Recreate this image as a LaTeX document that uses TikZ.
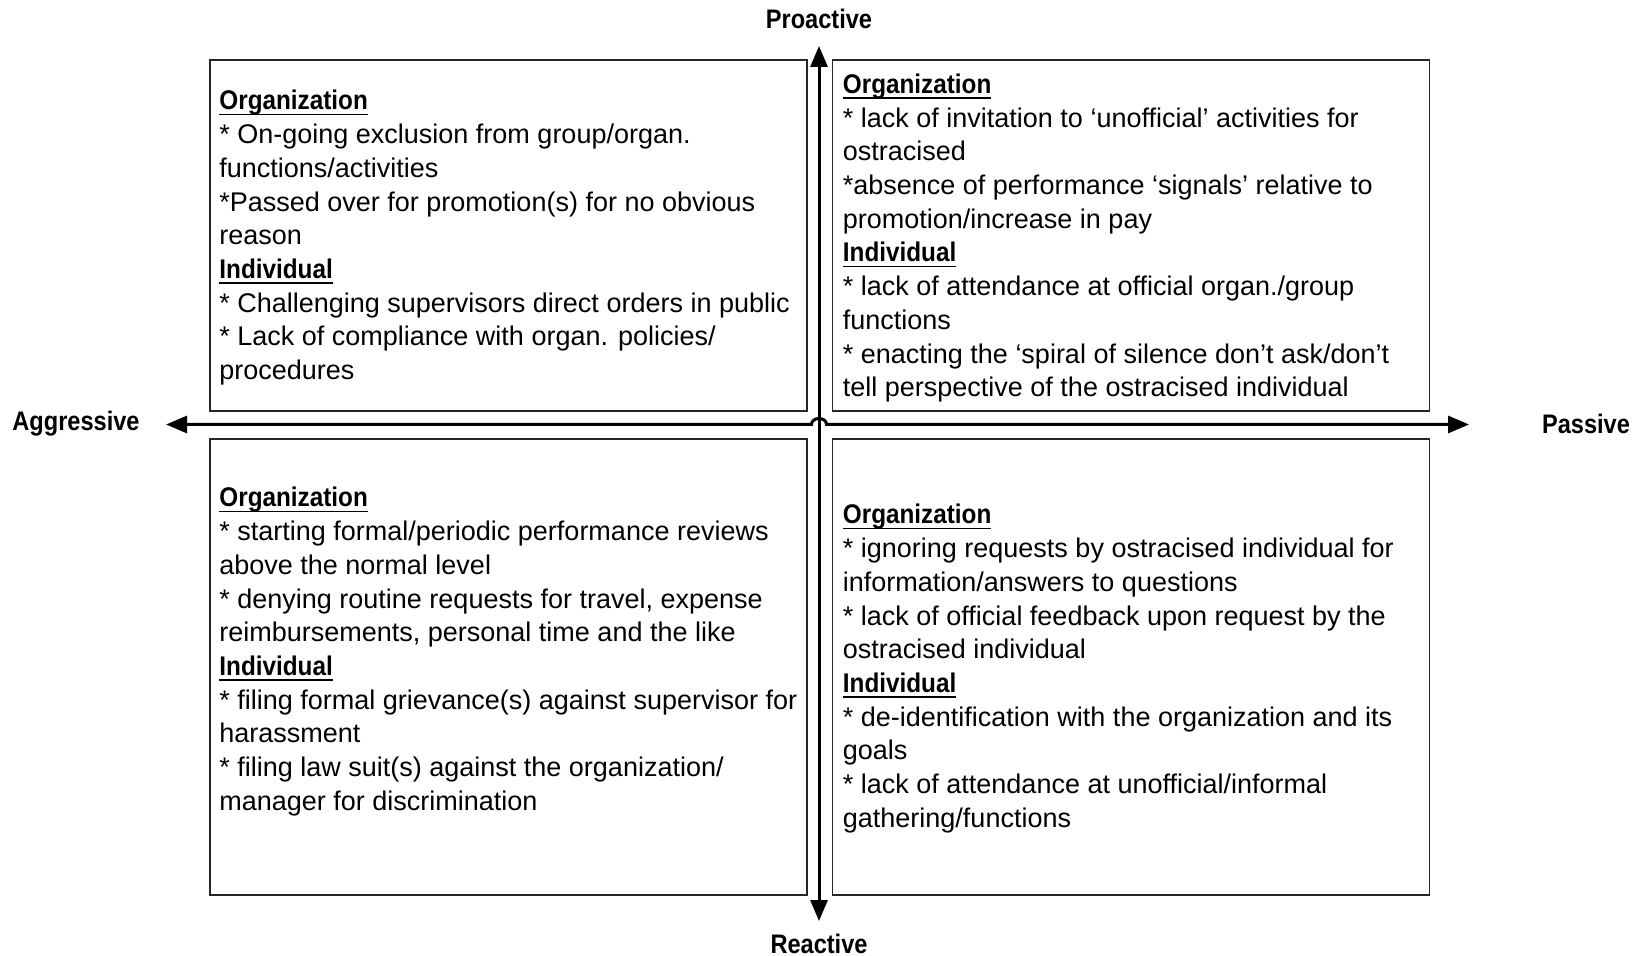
\documentclass[tikz,border=0pt]{standalone}
\usepackage{fontspec}
\setmainfont{Liberation Sans}
\usetikzlibrary{arrows.meta}
\newcommand{\hd}[1]{\scalebox{0.9}[1]{\setbox0\hbox{\bfseries #1}\rlap{\rule[-2.6pt]{\wd0}{0.75pt}}\box0}}
\newcommand{\axl}[1]{\scalebox{0.88}[1]{\bfseries #1}}
\begin{document}
\begin{tikzpicture}[x=0.5pt,y=-0.5pt,
  qbox/.style={draw=black!85, line width=0.75pt, inner sep=0, minimum width=298.5pt},
  qtext/.style={anchor=north west, inner sep=0, align=left, font=\fontsize{13.5}{16.85}\selectfont},
  axis/.style={line width=1.5pt, {Triangle[length=10.5pt,width=8.5pt]}-{Triangle[length=10.5pt,width=8.5pt]}},
  axlabel/.style={font=\fontsize{13.4}{15}\selectfont, inner sep=0}]
\useasboundingbox (0,0) rectangle (1641,956);

% quadrant boxes
\node[qbox, minimum height=175.5pt] (tlbox) at (508.25,235.5) {};
\node[qbox, minimum height=175.5pt] (trbox) at (1131,235.5) {};
\node[qbox, minimum height=228pt] (blbox) at (508.25,667) {};
\node[qbox, minimum height=228pt] (brbox) at (1131,667) {};

% texts
\node[qtext] (tltext) at (219,90) {\hd{Organization}\\
* On-going exclusion from group/organ.\\
functions/activities\\
*Passed over for promotion(s) for no obvious\\
reason\\
\hd{Individual}\\
* Challenging supervisors direct orders in public\\
* Lack of compliance with organ. policies/\\
procedures};

\node[qtext] (trtext) at (842.5,73.5) {\hd{Organization}\\
* lack of invitation to ‘unofficial’ activities for\\
ostracised\\
*absence of performance ‘signals’ relative to\\
promotion/increase in pay\\
\hd{Individual}\\
* lack of attendance at official organ./group\\
functions\\
* enacting the ‘spiral of silence don’t ask/don’t\\
tell perspective of the ostracised individual};

\node[qtext] (bltext) at (219,487) {\hd{Organization}\\
* starting formal/periodic performance reviews\\
above the normal level\\
* denying routine requests for travel, expense\\
reimbursements, personal time and the like\\
\hd{Individual}\\
* filing formal grievance(s) against supervisor for\\
harassment\\
* filing law suit(s) against the organization/\\
manager for discrimination};

\node[qtext] (brtext) at (842.5,504) {\hd{Organization}\\
* ignoring requests by ostracised individual for\\
information/answers to questions\\
* lack of official feedback upon request by the\\
ostracised individual\\
\hd{Individual}\\
* de-identification with the organization and its\\
goals\\
* lack of attendance at unofficial/informal\\
gathering/functions};

% axes
\coordinate (top) at (819,46);
\coordinate (bot) at (819,921);
\coordinate (lft) at (166,424.5);
\coordinate (rgt) at (1469,424.5);
\coordinate (hopA) at (811.5,424.5);
\coordinate (hopB) at (826.5,424.5);
\draw[axis] (bot) -- (top);
\draw[axis] (lft) -- (hopA) .. controls (811.5,416.5) and (826.5,416.5) .. (hopB) -- (rgt);

% axis labels
\node[axlabel] (pro) at (819,19) {\axl{Proactive}};
\node[axlabel] (rea) at (819,944) {\axl{Reactive}};
\node[axlabel] (agg) at (76,424) {\axl{Aggressive}};
\node[axlabel] (pas) at (1586,424) {\axl{Passive}};
\end{tikzpicture}
\end{document}
